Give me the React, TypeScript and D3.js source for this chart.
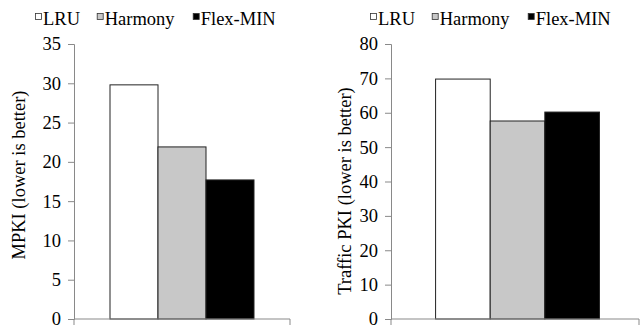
import * as React from 'react'
import * as d3 from 'd3'

const series = ['LRU', 'Harmony', 'Flex-MIN']
const colors = ['#ffffff', '#c8c8c8', '#000000']

const mpkiValues = [29.8, 21.9, 17.7]
const mpkiTicks = [0, 5, 10, 15, 20, 25, 30, 35]

const trafficValues = [69.8, 57.6, 60.2]
const trafficTicks = [0, 10, 20, 30, 40, 50, 60, 70, 80]

const panels = [
  { values: mpkiValues, ticks: mpkiTicks, title: 'MPKI (lower is better)', left: 74, right: 290, pad: 0.75, align: 0.5, titleX: 25, titleY: 175, legendX: 35 },
  { values: trafficValues, ticks: trafficTicks, title: 'Traffic PKI (lower is better)', left: 391, right: 639, pad: 0.77, align: 0.53, titleX: 351, titleY: 191, legendX: 370 },
]

const legendOffsets = [0, 61.7, 157.7]
const top = 44
const bottom = 319
const font = '"Liberation Serif", "Times New Roman", serif'
const fontSize = '18.5px'
const axisColor = '#898989'

export default function App() {
  const ref = React.useRef<SVGSVGElement>(null)

  React.useEffect(() => {
    const svg = d3.select(ref.current)
    svg.selectAll('*').remove()

    panels.forEach(p => {
      const g = svg.append('g')
      const yScale = d3.scaleLinear()
        .domain([0, d3.max(p.ticks)])
        .range([bottom, top])
      const x0 = d3.scaleBand().domain(['all']).range([p.left, p.right])
      const x1 = d3.scaleBand()
        .domain(series)
        .range([x0('all'), x0('all') + x0.bandwidth()])
        .paddingOuter(p.pad)
        .paddingInner(0)
        .align(p.align)

      // bars
      g.selectAll('.bar')
        .data(p.values)
        .enter().append('rect')
        .attr('class', 'bar')
        .attr('x', (d, i) => x1(series[i]))
        .attr('y', d => yScale(d))
        .attr('width', x1.bandwidth())
        .attr('height', d => bottom - yScale(d))
        .attr('fill', (d, i) => colors[i])
        .attr('stroke', '#222')
        .attr('stroke-width', 1)

      // y axis
      const yAxis = d3.axisLeft(yScale).tickValues(p.ticks).tickSize(6).tickPadding(7)
      const ya = g.append('g')
        .attr('transform', `translate(${p.left}, 0)`)
        .call(yAxis)
      ya.attr('font-family', null).attr('font-size', null)
      ya.selectAll('.domain').attr('stroke', axisColor)
      ya.selectAll('.tick line').attr('stroke', axisColor)
      ya.selectAll('.tick text')
        .style('font-family', font)
        .style('font-size', fontSize)
        .attr('fill', '#000')

      // x axis
      g.append('line')
        .attr('x1', p.left).attr('x2', p.right)
        .attr('y1', bottom).attr('y2', bottom)
        .attr('stroke', axisColor)
      g.selectAll('.xtick')
        .data([p.left, p.right])
        .enter().append('line')
        .attr('x1', d => d).attr('x2', d => d)
        .attr('y1', bottom).attr('y2', bottom + 6)
        .attr('stroke', axisColor)

      // title
      g.append('text')
        .attr('transform', `translate(${p.titleX}, ${p.titleY}) rotate(-90)`)
        .attr('text-anchor', 'middle')
        .style('font-family', font)
        .style('font-size', fontSize)
        .text(p.title)

      // legend
      const lg = g.selectAll('.legend')
        .data(series)
        .enter().append('g')
        .attr('transform', (d, i) => `translate(${p.legendX + legendOffsets[i]}, 0)`)
      lg.append('rect')
        .attr('x', 0.5).attr('y', 13.5)
        .attr('width', 6).attr('height', 6)
        .attr('fill', (d, i) => colors[i])
        .attr('stroke', '#333')
        .attr('stroke-width', 0.8)
      lg.append('text')
        .attr('x', 8).attr('y', 25)
        .style('font-family', font)
        .style('font-size', fontSize)
        .text(d => d)
    })
  }, [])

  return (
    <svg ref={ref} width={644} height={329}
      style={{ position: 'absolute', left: 0, top: 0, background: '#fff', fontFamily: font }} />
  )
}
